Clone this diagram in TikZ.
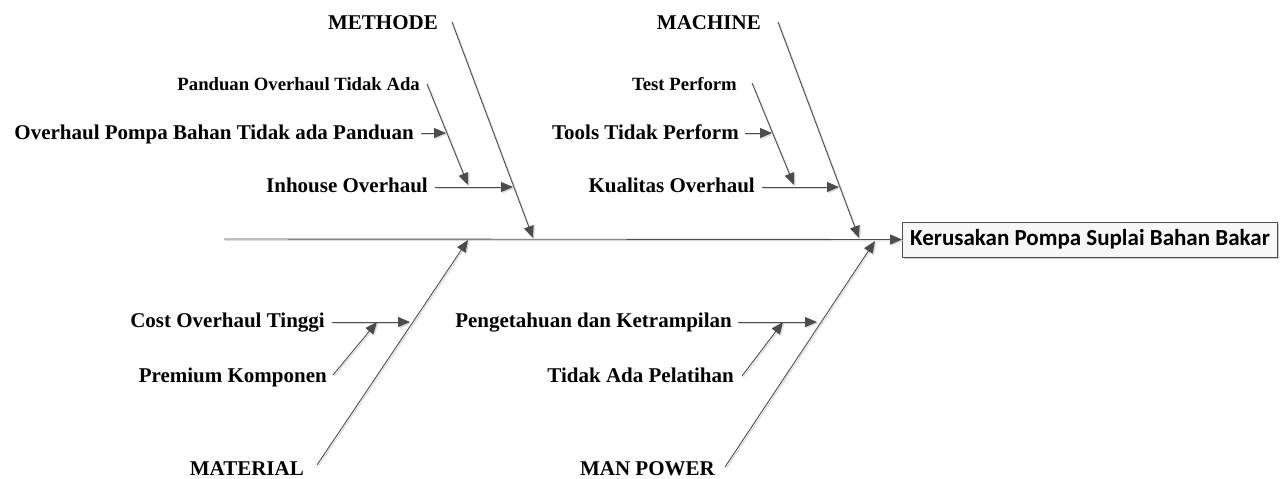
\documentclass[tikz,border=0pt]{standalone}
\usepackage{fontspec}
\setmainfont{Liberation Serif}
\newfontfamily\boxfont{Carlito}
\usetikzlibrary{arrows.meta,shadows}
\tikzset{
  lbl/.style={font=\bfseries\fontsize{21}{24}\selectfont, anchor=base east, inner sep=0pt},
  slbl/.style={font=\bfseries\fontsize{18.7}{22}\selectfont, anchor=base east, inner sep=0pt},
  bone/.style={draw=black!70, line width=0.9pt,
    -{Triangle[length=12pt,width=10pt]}, 
    preaction={draw=black!15, line width=1pt, transform canvas={shift={(1.3pt,-1.3pt)}}}},
  effectbox/.style={draw=black!70, line width=0.9pt, fill=black!3, anchor=west,
    minimum width=375pt, minimum height=35pt, inner sep=0pt,
    font=\boxfont\bfseries\fontsize{23}{26}\selectfont,
    drop shadow={shadow xshift=2pt, shadow yshift=-2pt, fill=black!20, opacity=1}}
}
\begin{document}
\begin{tikzpicture}[x=1pt,y=-1pt]
\useasboundingbox (0,0) rectangle (1285,479);
% effect
\node[effectbox] (eff) at (902,239.5) {Kerusakan Pompa Suplai Bahan Bakar};
\coordinate (tail) at (224,239);
% main bone endpoints
\coordinate (mS) at (452,22);  \coordinate (mE) at (533,238);
\coordinate (cS) at (778,22);  \coordinate (cE) at (859,238);
\coordinate (tS) at (317,465); \coordinate (tE) at (468,240);
\coordinate (pS) at (725,467); \coordinate (pE) at (875,241);
% labels
\node[lbl] (methode) at (438,29) {METHODE};
\node[lbl] (machine) at (761,29) {MACHINE};
\node[lbl] (material) at (304,475) {MATERIAL};
\node[lbl] (manpower) at (715,475) {MAN POWER};
\node[slbl] (pand) at (420,90) {Panduan Overhaul Tidak Ada};
\node[slbl] (test) at (737,90) {Test Perform};
\node[lbl] (pompa) at (414,139) {Overhaul Pompa Bahan Tidak ada Panduan};
\node[lbl] (tools) at (739,139) {Tools Tidak Perform};
\node[lbl] (inh) at (428,192) {Inhouse Overhaul};
\node[lbl] (kual) at (755,192) {Kualitas Overhaul};
\node[lbl] (cost) at (325,327) {Cost Overhaul Tinggi};
\node[lbl] (prem) at (327,382) {Premium Komponen};
\node[lbl] (peng) at (732,327) {Pengetahuan dan Ketrampilan};
\node[lbl] (tidak) at (734,382) {Tidak Ada Pelatihan};
% sub bone coordinates
\coordinate (inhS) at (435,187); \coordinate (inhE) at (513,187);
\coordinate (panS) at (427,84);  \coordinate (panE) at (468,185);
\coordinate (pomS) at (421,133); \coordinate (pomE) at (446,133);
\coordinate (kuaS) at (762,187); \coordinate (kuaE) at (839,187);
\coordinate (tesS) at (752,83);  \coordinate (tesE) at (794,185);
\coordinate (tooS) at (745,133); \coordinate (tooE) at (772,133);
\coordinate (cosS) at (332,322); \coordinate (cosE) at (410,322);
\coordinate (preS) at (333,375); \coordinate (preE) at (377,322);
\coordinate (penS) at (738,322); \coordinate (penE) at (817,322);
\coordinate (tidS) at (742,376); \coordinate (tidE) at (783,322);
% spine
\draw[bone] (tail) -- (eff.west);
% main bones
\draw[bone] (mS) -- (mE);
\draw[bone] (cS) -- (cE);
\draw[bone] (tS) -- (tE);
\draw[bone] (pS) -- (pE);
% sub bones
\draw[bone] (inhS) -- (inhE);
\draw[bone] (panS) -- (panE);
\draw[bone] (pomS) -- (pomE);
\draw[bone] (kuaS) -- (kuaE);
\draw[bone] (tesS) -- (tesE);
\draw[bone] (tooS) -- (tooE);
\draw[bone] (cosS) -- (cosE);
\draw[bone] (preS) -- (preE);
\draw[bone] (penS) -- (penE);
\draw[bone] (tidS) -- (tidE);
\end{tikzpicture}
\end{document}
